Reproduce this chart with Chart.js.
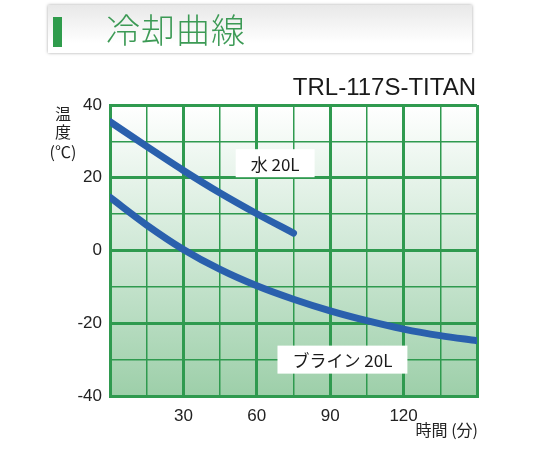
<!DOCTYPE html>
<html>
<head>
<meta charset="utf-8">
<script src="https://cdn.jsdelivr.net/npm/chart.js@4.4.1/dist/chart.umd.min.js"></script>
<style>
  html, body { margin: 0; padding: 0; background: #fff; }
  #wrap { position: relative; width: 540px; height: 450px; overflow: hidden; }
  #header {
    position: absolute; left: 48px; top: 5px; width: 424px; height: 48px;
    background: linear-gradient(#e8e8e8, #ffffff 80%);
    box-shadow: 0 0 3px rgba(0,0,0,0.35);
  }
  #header .bar { position: absolute; left: 5px; top: 12px; width: 9px; height: 30px; background: #2f9c4c; }
  #header .txt {
    position: absolute; left: 58px; top: 2px; font-family: "Noto Sans CJK JP", sans-serif;
    font-size: 34px; color: #3c9a55; letter-spacing: 1px; line-height: 44px; font-weight: 300;
  }
  #model {
    position: absolute; right: 64px; top: 72px; font-family: "Liberation Sans", Arial, sans-serif;
    font-size: 24px; color: #1a1a1a; line-height: 30px;
  }
  canvas { position: absolute; left: 0; top: 0; }
</style>
</head>
<body>
<div id="wrap">
  <canvas id="coolChart" width="540" height="450"></canvas>
  <div id="header"><div class="bar"></div><div class="txt">冷却曲線</div></div>
  <div id="model">TRL-117S-TITAN</div>
</div>
<script>
// Data (time in minutes, temperature in °C)
const waterTimes = [0, 15, 30, 45, 60, 75];
const waterTemps = [35.4, 28.6, 22.0, 15.8, 10.1, 4.8];
const brineTimes = [0, 15, 30, 45, 60, 75, 90, 105, 120, 135, 150];
const brineTemps = [14.6, 7.0, 0.3, -5.2, -9.7, -13.4, -16.6, -19.3, -21.6, -23.4, -24.8];
const xTickLabels = [30, 60, 90, 120];
const yTickLabels = [40, 20, 0, -20, -40];
const seriesNames = ['水 20L', 'ブライン 20L'];
// label anchors (data coords) for the boxed series names
const labelAt = [[67.5, 24], [95, -30]];

const lineBlue = '#2a60ad';
const gridGreen = '#2f9a4f';
const jpFont = '"Noto Sans CJK JP", sans-serif';
const numFont = '"Liberation Sans", Arial, sans-serif';

function toPoints(xs, ys) {
    return xs.map((x, i) => ({ x: x, y: ys[i] }));
}

// Gradient fill behind the plot
const bgPlugin = {
    id: 'bgPlugin',
    beforeDraw(chart) {
        const { ctx, chartArea: a } = chart;
        const g = ctx.createLinearGradient(0, a.top, 0, a.bottom);
        g.addColorStop(0, '#ffffff');
        g.addColorStop(0.5, '#cfe8d6');
        g.addColorStop(1, '#9dcfa9');
        ctx.save();
        ctx.fillStyle = g;
        ctx.fillRect(a.left, a.top, a.right - a.left, a.bottom - a.top);
        ctx.restore();
    }
};

// Series name boxes and axis titles
const textPlugin = {
    id: 'textPlugin',
    afterDraw(chart) {
        const { ctx, scales } = chart;
        ctx.save();
        ctx.font = '17px ' + jpFont;
        ctx.textBaseline = 'middle';
        seriesNames.forEach((name, i) => {
            const cx = scales.x.getPixelForValue(labelAt[i][0]);
            const cy = scales.y.getPixelForValue(labelAt[i][1]);
            const w = ctx.measureText(name).width;
            ctx.fillStyle = '#ffffff';
            ctx.fillRect(cx - w / 2 - 15, cy - 14, w + 30, 28);
            ctx.fillStyle = '#1a1a1a';
            ctx.textAlign = 'center';
            ctx.fillText(name, cx, cy + 1);
        });
        // y axis title, stacked
        ctx.font = '16px ' + jpFont;
        ctx.fillStyle = '#222';
        ctx.textAlign = 'center';
        ctx.fillText('温', 63, 114);
        ctx.fillText('度', 63, 132);
        ctx.fillText('(℃)', 63, 152);
        // x axis title
        ctx.font = '16px ' + jpFont;
        ctx.textAlign = 'right';
        ctx.fillText('時間 (分)', 478, 430);
        ctx.restore();
    }
};

function init() {
    const ctx = document.getElementById('coolChart').getContext('2d');
    new Chart(ctx, {
        type: 'line',
        data: {
            datasets: [
                { label: seriesNames[0], data: toPoints(waterTimes, waterTemps) },
                { label: seriesNames[1], data: toPoints(brineTimes, brineTemps) }
            ].map(d => Object.assign(d, {
                borderColor: lineBlue,
                borderWidth: 7,
                borderCapStyle: 'round',
                pointRadius: 0,
                cubicInterpolationMode: 'monotone',
                fill: false
            }))
        },
        options: {
            responsive: false,
            animation: false,
            layout: { padding: { top: 105, right: 63, left: 0, bottom: 0 } },
            plugins: { legend: { display: false }, tooltip: { enabled: false } },
            scales: {
                x: {
                    type: 'linear', min: 0, max: 150,
                    afterFit(s) { s.height = 54; },
                    border: { color: gridGreen, width: 3 },
                    grid: {
                        color: gridGreen, drawTicks: false,
                        lineWidth: c => (c.tick.value % 30 === 0 ? 3 : 1.5)
                    },
                    ticks: {
                        stepSize: 15, padding: 10, maxRotation: 0, autoSkip: false,
                        color: '#222', font: { family: numFont, size: 17 },
                        callback: v => (xTickLabels.includes(v) ? String(v) : '')
                    }
                },
                y: {
                    min: -40, max: 40,
                    afterFit(s) { s.width = 110; },
                    border: { color: gridGreen, width: 3 },
                    grid: {
                        color: gridGreen, drawTicks: false,
                        lineWidth: c => (c.tick.value % 20 === 0 ? 3 : 1.5)
                    },
                    ticks: {
                        stepSize: 10, padding: 8, autoSkip: false,
                        color: '#222', font: { family: numFont, size: 17 },
                        callback: v => (yTickLabels.includes(v) ? String(v) : '')
                    }
                }
            }
        },
        plugins: [bgPlugin, textPlugin]
    });
}

window.onload = init;
</script>
</body>
</html>
